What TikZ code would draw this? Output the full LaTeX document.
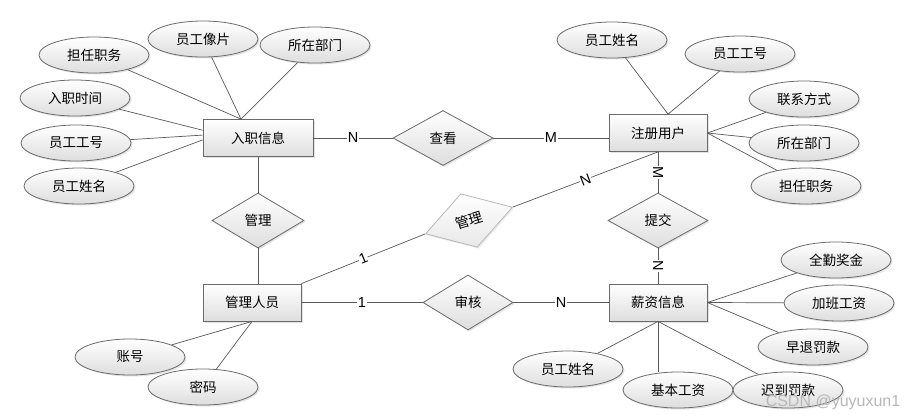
\documentclass[tikz,border=0pt]{standalone}
\usepackage{fontspec}
\setmainfont{Liberation Sans}
\newfontfamily\cjk{Noto Sans CJK SC}
\usetikzlibrary{shapes.geometric,shadows}
\begin{document}
\begin{tikzpicture}[x=1pt,y=-1pt,
  base/.style={draw=black!58, line width=0.8pt, top color=white, bottom color=black!13,
    drop shadow={opacity=0.22,shadow xshift=1.5pt,shadow yshift=-1.5pt},
    inner sep=0pt, font=\cjk\fontsize{13.5}{16}\selectfont},
  ent/.style={base, rectangle, minimum height=37pt},
  attr/.style={base, ellipse, minimum width=110pt, minimum height=36pt},
  rel/.style={base, diamond, minimum height=55pt},
  grel/.style={draw=black!28, line width=0.8pt, top color=white, bottom color=black!9,
    drop shadow={opacity=0.15,shadow xshift=1.5pt,shadow yshift=-1.5pt},
    diamond, inner sep=0pt, font=\cjk\fontsize{14}{16}\selectfont},
  link/.style={draw=black!65, line width=0.7pt},
  card/.style={fill=white, inner sep=0.6pt, font=\fontsize{14.5}{16}\selectfont}]
\fill[white] (0,0) rectangle (907,418);
\useasboundingbox (0,0) rectangle (907,418);

% entities
\node[ent, minimum width=110pt] (rz) at (258,138) {入职信息};
\node[ent, minimum width=98pt] (zc) at (658,133) {注册用户};
\node[ent, minimum width=98pt] (gr) at (252,302.5) {管理人员};
\node[ent, minimum width=98pt] (xz) at (658,302.5) {薪资信息};

% relationships
\node[rel, minimum width=100pt] (ck) at (443,138) {查看};
\node[rel, minimum width=92pt] (gl) at (258,220.5) {管理};
\node[rel, minimum width=100pt] (tj) at (658,220.5) {提交};
\node[rel, minimum width=90pt] (sh) at (468,302.5) {审核};
\node[grel, minimum width=91pt, minimum height=56pt, rotate=17] (gm) at (469,220.5) {管理};

% attributes of 入职信息
\node[attr] (a1) at (94,55) {担任职务};
\node[attr] (a2) at (203,39) {员工像片};
\node[attr] (a3) at (315,45) {所在部门};
\node[attr] (a4) at (75,98) {入职时间};
\node[attr] (a5) at (76,143) {员工工号};
\node[attr] (a6) at (79,186) {员工姓名};

% attributes of 注册用户
\node[attr] (b1) at (612,40) {员工姓名};
\node[attr] (b2) at (740,54) {员工工号};
\node[attr] (b3) at (804,99) {联系方式};
\node[attr] (b4) at (804,143) {所在部门};
\node[attr] (b5) at (806,186) {担任职务};

% attributes of 管理人员
\node[attr] (c1) at (130,357) {账号};
\node[attr] (c2) at (203,387) {密码};

% attributes of 薪资信息
\node[attr] (d1) at (836,260) {全勤奖金};
\node[attr] (d2) at (839,303) {加班工资};
\node[attr] (d3) at (813,347) {早退罚款};
\node[attr] (d6) at (568,369) {员工姓名};
\node[attr] (d5) at (678,390) {基本工资};
\node[attr] (d4) at (788,390) {迟到罚款};

% attribute links
\draw[link] (a1) -- (rz.132);
\draw[link] (a2) -- (rz.132);
\draw[link] (a3) -- (rz.132);
\draw[link] (a4) -- (rz.172);
\draw[link] (a5) -- (rz.177);
\draw[link] (a6) -- (rz.182);

\draw[link] (b1) -- (zc.62);
\draw[link] (b2) -- (zc.62);
\draw[link] (b3) -- (zc.east);
\draw[link] (b4) -- (zc.east);
\draw[link] (b5) -- (zc.east);

\draw[link] (c1) -- (gr.south);
\draw[link] (c2) -- (gr.south);

\draw[link] (d1) -- (xz.east);
\draw[link] (d2) -- (xz.east);
\draw[link] (d3) -- (xz.east);
\draw[link] (d4) -- (xz.south);
\draw[link] (d5.north -| xz.south) -- (xz.south);
\draw[link] (d6) -- (xz.south);

% relationship links
\draw[link] (rz.south) -- (gl.north);
\draw[link] (gl.south) -- (gl.south |- gr.north);
\draw[link] (rz.east) -- node[card]{N} (ck.west);
\draw[link] (ck.east) -- node[card]{M} (ck.east -| zc.west);
\draw[link] (zc.south) -- node[card, rotate=-90]{M} (tj.north);
\draw[link] (tj.south) -- node[card, rotate=-90]{N} (xz.north);
\draw[link] (gr.east) -- node[card]{1} (sh.west);
\draw[link] (sh.east) -- node[card]{N} (xz.west);
\draw[link] (gr.north east) -- node[card, sloped]{1} (gm.west);
\draw[link] (gm.east) -- node[card, sloped]{N} (zc.south);

\node[text=black!28, font=\fontsize{16}{18}\selectfont] (wm) at (833,402) {CSDN @yuyuxun1};
\end{tikzpicture}
\end{document}
